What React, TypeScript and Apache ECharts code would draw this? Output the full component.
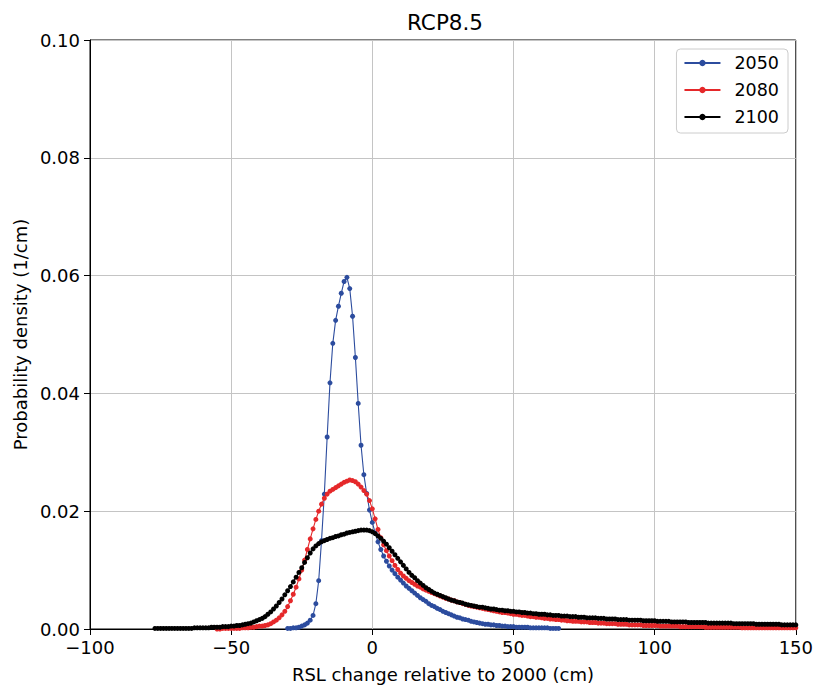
import React, { useEffect, useRef } from "react";
import * as echarts from "echarts";

const TITLE = "RCP8.5";
const X_NAME = "RSL change relative to 2000 (cm)";
const Y_NAME = "Probability density (1/cm)";
const SERIES_NAMES = ["2050", "2080", "2100"];
const SERIES_COLORS = ["#2c4c9e", "#e5282a", "#000000"];

// x positions start (cm) and step (cm) for each series
const START_2050 = -30;
const START_2080 = -55;
const START_2100 = -77;
const STEP_CM = 1;

const Y_2050 = [
  0.0001, 0.0001, 0.0002, 0.0002, 0.0003, 0.0005, 0.0007, 0.0010, 0.0015, 0.0023,
  0.0043, 0.0082, 0.0150, 0.0229, 0.0326, 0.0418, 0.0485, 0.0524, 0.0548, 0.0570,
  0.0590, 0.0597, 0.0578, 0.0531, 0.0461, 0.0383, 0.0312, 0.0262, 0.0230, 0.0202,
  0.0181, 0.0163, 0.0148, 0.0135, 0.0124, 0.0115, 0.0107, 0.0100, 0.0094, 0.0088,
  0.0083, 0.0078, 0.0073, 0.0069, 0.0065, 0.0061, 0.0057, 0.0053, 0.0050, 0.0047,
  0.0043, 0.0040, 0.0038, 0.0035, 0.0033, 0.0030, 0.0028, 0.0026, 0.0024, 0.0022,
  0.0020, 0.0019, 0.0017, 0.0016, 0.0015, 0.0013, 0.0012, 0.0011, 0.0010, 0.0009,
  0.0008, 0.0008, 0.0007, 0.0007, 0.0006, 0.0006, 0.0005, 0.0005, 0.0004, 0.0004,
  0.0004, 0.0003, 0.0003, 0.0003, 0.0003, 0.0003, 0.0002, 0.0002, 0.0002, 0.0002,
  0.0002, 0.0002, 0.0002, 0.0001, 0.0001, 0.0001, 0.0001,
];

const Y_2080 = [
  0.0000, 0.0000, 0.0001, 0.0001, 0.0001, 0.0001, 0.0001, 0.0001, 0.0001, 0.0002,
  0.0002, 0.0002, 0.0003, 0.0003, 0.0004, 0.0005, 0.0005, 0.0006, 0.0007, 0.0009,
  0.0012, 0.0015, 0.0019, 0.0024, 0.0030, 0.0038, 0.0048, 0.0059, 0.0071, 0.0085,
  0.0100, 0.0117, 0.0135, 0.0153, 0.0170, 0.0186, 0.0200, 0.0212, 0.0222, 0.0229,
  0.0234, 0.0237, 0.0240, 0.0243, 0.0246, 0.0249, 0.0251, 0.0253, 0.0252, 0.0250,
  0.0246, 0.0241, 0.0235, 0.0229, 0.0218, 0.0204, 0.0187, 0.0169, 0.0155, 0.0143,
  0.0133, 0.0124, 0.0116, 0.0108, 0.0101, 0.0095, 0.0090, 0.0086, 0.0082, 0.0079,
  0.0076, 0.0073, 0.0071, 0.0068, 0.0066, 0.0064, 0.0062, 0.0060, 0.0058, 0.0056,
  0.0054, 0.0052, 0.0051, 0.0049, 0.0048, 0.0046, 0.0045, 0.0043, 0.0042, 0.0040,
  0.0039, 0.0038, 0.0037, 0.0036, 0.0035, 0.0034, 0.0033, 0.0032, 0.0031, 0.0030,
  0.0029, 0.0028, 0.0028, 0.0027, 0.0026, 0.0025, 0.0025, 0.0024, 0.0023, 0.0023,
  0.0022, 0.0021, 0.0021, 0.0020, 0.0020, 0.0019, 0.0018, 0.0018, 0.0017, 0.0017,
  0.0016, 0.0016, 0.0015, 0.0015, 0.0014, 0.0014, 0.0013, 0.0013, 0.0013, 0.0012,
  0.0012, 0.0012, 0.0011, 0.0011, 0.0011, 0.0010, 0.0010, 0.0010, 0.0009, 0.0009,
  0.0009, 0.0009, 0.0008, 0.0008, 0.0008, 0.0008, 0.0007, 0.0007, 0.0007, 0.0007,
  0.0007, 0.0006, 0.0006, 0.0006, 0.0006, 0.0006, 0.0006, 0.0005, 0.0005, 0.0005,
  0.0005, 0.0005, 0.0005, 0.0005, 0.0004, 0.0004, 0.0004, 0.0004, 0.0004, 0.0004,
  0.0004, 0.0004, 0.0004, 0.0003, 0.0003, 0.0003, 0.0003, 0.0003, 0.0003, 0.0003,
  0.0003, 0.0003, 0.0003, 0.0003, 0.0003, 0.0003, 0.0002, 0.0002, 0.0002, 0.0002,
  0.0002, 0.0002, 0.0002, 0.0002, 0.0002, 0.0002, 0.0002, 0.0002, 0.0002, 0.0002,
  0.0002, 0.0002, 0.0002, 0.0002, 0.0002, 0.0002,
];

const Y_2100 = [
  0.0001, 0.0001, 0.0001, 0.0001, 0.0001, 0.0001, 0.0001, 0.0001, 0.0001, 0.0001,
  0.0001, 0.0001, 0.0001, 0.0001, 0.0002, 0.0002, 0.0002, 0.0002, 0.0002, 0.0002,
  0.0003, 0.0003, 0.0003, 0.0003, 0.0004, 0.0004, 0.0004, 0.0005, 0.0005, 0.0006,
  0.0006, 0.0007, 0.0008, 0.0009, 0.0010, 0.0012, 0.0014, 0.0016, 0.0018, 0.0021,
  0.0025, 0.0029, 0.0034, 0.0039, 0.0045, 0.0051, 0.0058, 0.0065, 0.0072, 0.0080,
  0.0088, 0.0096, 0.0104, 0.0113, 0.0121, 0.0129, 0.0136, 0.0141, 0.0145, 0.0148,
  0.0150, 0.0152, 0.0154, 0.0155, 0.0157, 0.0158, 0.0160, 0.0161, 0.0163, 0.0164,
  0.0165, 0.0166, 0.0167, 0.0168, 0.0168, 0.0168, 0.0167, 0.0165, 0.0162, 0.0158,
  0.0154, 0.0149, 0.0144, 0.0138, 0.0132, 0.0126, 0.0120, 0.0114, 0.0108, 0.0102,
  0.0096, 0.0091, 0.0087, 0.0082, 0.0078, 0.0074, 0.0070, 0.0067, 0.0064, 0.0061,
  0.0059, 0.0057, 0.0055, 0.0053, 0.0051, 0.0049, 0.0048, 0.0046, 0.0045, 0.0044,
  0.0042, 0.0041, 0.0040, 0.0039, 0.0038, 0.0037, 0.0037, 0.0036, 0.0035, 0.0034,
  0.0034, 0.0033, 0.0032, 0.0032, 0.0031, 0.0031, 0.0030, 0.0030, 0.0029, 0.0029,
  0.0028, 0.0028, 0.0027, 0.0027, 0.0026, 0.0026, 0.0025, 0.0025, 0.0025, 0.0024,
  0.0024, 0.0023, 0.0023, 0.0023, 0.0022, 0.0022, 0.0022, 0.0021, 0.0021, 0.0021,
  0.0020, 0.0020, 0.0020, 0.0019, 0.0019, 0.0019, 0.0019, 0.0018, 0.0018, 0.0018,
  0.0017, 0.0017, 0.0017, 0.0017, 0.0016, 0.0016, 0.0016, 0.0016, 0.0015, 0.0015,
  0.0015, 0.0015, 0.0015, 0.0014, 0.0014, 0.0014, 0.0014, 0.0014, 0.0013, 0.0013,
  0.0013, 0.0013, 0.0013, 0.0012, 0.0012, 0.0012, 0.0012, 0.0012, 0.0012, 0.0011,
  0.0011, 0.0011, 0.0011, 0.0011, 0.0011, 0.0011, 0.0010, 0.0010, 0.0010, 0.0010,
  0.0010, 0.0010, 0.0010, 0.0010, 0.0010, 0.0009, 0.0009, 0.0009, 0.0009, 0.0009,
  0.0009, 0.0009, 0.0009, 0.0008, 0.0008, 0.0008, 0.0008, 0.0008, 0.0008, 0.0008,
  0.0008, 0.0008, 0.0007, 0.0007, 0.0007, 0.0007, 0.0007, 0.0007,
];

const X_MIN = -100;
const X_MAX = 150;
const X_INTERVAL = 50;
const Y_MIN = 0;
const Y_MAX = 0.1;
const Y_INTERVAL = 0.02;

function toPairs(start: number, ys: number[]) {
  return ys.map((y, i) => [start + i * STEP_CM, y]);
}

const FONT = "DejaVu Sans";
const TICK_FS = 18;

export default function App() {
  const ref = useRef<HTMLDivElement>(null);
  useEffect(() => {
    if (!ref.current) return;
    const chart = echarts.init(ref.current, undefined, { renderer: "svg" });
    const datasets = [
      toPairs(START_2050, Y_2050),
      toPairs(START_2080, Y_2080),
      toPairs(START_2100, Y_2100),
    ];
    chart.setOption({
      animation: false,
      backgroundColor: "#ffffff",
      title: {
        text: TITLE,
        left: 402,
        top: 6,
        textStyle: { fontFamily: FONT, fontSize: 21.5, fontWeight: "normal", color: "#000" },
      },
      grid: {
        left: 90,
        right: 19,
        top: 40,
        bottom: 58,
        show: true,
        borderColor: "#000",
        borderWidth: 1,
        backgroundColor: "transparent",
      },
      legend: {
        orient: "vertical",
        right: 28,
        top: 49,
        padding: [4, 9, 6, 7],
        itemGap: 7,
        itemWidth: 36,
        itemHeight: 8,
        borderColor: "#cccccc",
        borderWidth: 1,
        borderRadius: 4,
        backgroundColor: "#ffffff",
        textStyle: { fontFamily: FONT, fontSize: 17.5, color: "#000", padding: [0, 0, 0, 9], lineHeight: 20 },
        data: SERIES_NAMES,
      },
      xAxis: {
        type: "value",
        min: X_MIN,
        max: X_MAX,
        interval: X_INTERVAL,
        name: X_NAME,
        nameLocation: "middle",
        nameGap: 36,
        nameTextStyle: { fontFamily: FONT, fontSize: TICK_FS, color: "#000" },
        axisLine: { show: true, onZero: false, lineStyle: { color: "#000", width: 1 } },
        axisTick: { show: true, inside: false, length: 6, lineStyle: { color: "#000" } },
        axisLabel: {
          fontFamily: FONT,
          fontSize: TICK_FS,
          color: "#000",
          margin: 9,
          formatter: (v: number) => String(v).replace("-", "\u2212"),
        },
        splitLine: { show: true, lineStyle: { color: "#c4c4c4", width: 1 } },
      },
      yAxis: {
        type: "value",
        min: Y_MIN,
        max: Y_MAX,
        interval: Y_INTERVAL,
        name: Y_NAME,
        nameLocation: "middle",
        nameGap: 61,
        nameTextStyle: { fontFamily: FONT, fontSize: TICK_FS, color: "#000" },
        axisLine: { show: true, onZero: false, lineStyle: { color: "#000", width: 1 } },
        axisTick: { show: true, inside: false, length: 6, lineStyle: { color: "#000" } },
        axisLabel: {
          fontFamily: FONT,
          fontSize: TICK_FS,
          color: "#000",
          margin: 10,
          formatter: (v: number) => v.toFixed(2),
        },
        splitLine: { show: true, lineStyle: { color: "#c4c4c4", width: 1 } },
      },
      series: SERIES_NAMES.map((name, i) => ({
        name,
        type: "line",
        data: datasets[i],
        symbol: "circle",
        symbolSize: 5,
        showSymbol: true,
        showAllSymbol: true,
        clip: true,
        lineStyle: { color: SERIES_COLORS[i], width: 1.1 },
        itemStyle: { color: SERIES_COLORS[i] },
        z: 2 + i,
      })),
    });
    return () => chart.dispose();
  }, []);
  return (
    <div
      ref={ref}
      style={{ position: "fixed", left: 0, top: 0, width: 816, height: 688 }}
    />
  );
}
